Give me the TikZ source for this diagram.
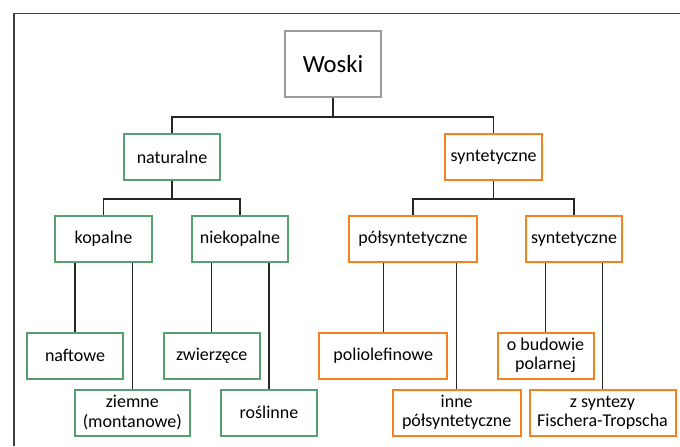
\documentclass[tikz,border=0pt]{standalone}
\usepackage{fontspec}
\setmainfont{Carlito}
\definecolor{wgreen}{RGB}{84,160,112}
\definecolor{worange}{RGB}{245,130,32}
\definecolor{wgray}{RGB}{155,155,160}
\definecolor{wframe}{RGB}{64,64,64}
\tikzset{
  box/.style={draw, line width=1.5pt, fill=white, minimum height=34.5pt, inner sep=1pt, align=center, font=\fontsize{13.5}{14.5}\selectfont},
  gbox/.style={box, draw=wgreen},
  obox/.style={box, draw=worange},
  link/.style={draw=black!85, line width=1.1pt},
}
\begin{document}
\begin{tikzpicture}[x=0.75pt,y=-0.75pt]
\useasboundingbox (0,0) rectangle (680,446);
\coordinate (f1) at (14,446);
\coordinate (f2) at (14,13.5);
\coordinate (f3) at (680,13.5);
\draw[wframe, line width=1pt] (f1) -- (f2) -- (f3);

\node[box, draw=wgray, minimum width=72pt, minimum height=49.5pt, font=\fontsize{18.5}{20}\selectfont] (root) at (333,64) {Woski};

\node[gbox, minimum width=72pt] (nat) at (172,157) {naturalne};
\node[obox, minimum width=72.5pt] (syn) at (493.7,157) {syntetyczne};

\node[gbox, minimum width=72.5pt] (kop) at (103.5,239) {kopalne};
\node[gbox, minimum width=72pt] (niek) at (240,239) {niekopalne};
\node[obox, minimum width=96pt] (pol) at (413,239) {półsyntetyczne};
\node[obox, minimum width=72.5pt] (syn2) at (574,239) {syntetyczne};

\node[gbox, minimum width=72.5pt] (naf) at (75,355.5) {naftowe};
\node[gbox, minimum width=72pt] (zwi) at (211.7,355.5) {zwierzęce};
\node[obox, minimum width=96pt] (polio) at (383.3,355.5) {poliolefinowe};
\node[obox, minimum width=72pt] (obud) at (545.5,355.5) {o budowie\\polarnej};

\node[gbox, minimum width=86.5pt] (ziem) at (132.3,412.5) {ziemne\\(montanowe)};
\node[gbox, minimum width=72pt] (ros) at (269,412.5) {roślinne};
\node[obox, minimum width=96pt] (inne) at (456.7,412.5) {inne\\półsyntetyczne};
\node[obox, minimum width=109.5pt] (fisch) at (602.5,412.5) {z syntezy\\Fischera-Tropscha};

% level 1
\draw[link] (root.south) -- ++(0,19) -| (nat.north);
\draw[link] (root.south) -- ++(0,19) -| (syn.north);
% level 2
\draw[link] (nat.south) -- ++(0,18) -| (kop.north);
\draw[link] (nat.south) -- ++(0,18) -| (niek.north);
\draw[link] (syn.south) -- ++(0,18) -| (pol.north);
\draw[link] (syn.south) -- ++(0,18) -| (syn2.north);
% level 3
\draw[link] (naf.north) -- (naf.north |- kop.south);
\draw[link] (ziem.north) -- (ziem.north |- kop.south);
\draw[link] (zwi.north) -- (zwi.north |- niek.south);
\draw[link] (ros.north) -- (ros.north |- niek.south);
\draw[link] (polio.north) -- (polio.north |- pol.south);
\draw[link] (inne.north) -- (inne.north |- pol.south);
\draw[link] (obud.north) -- (obud.north |- syn2.south);
\draw[link] (fisch.north) -- (fisch.north |- syn2.south);
\end{tikzpicture}
\end{document}
